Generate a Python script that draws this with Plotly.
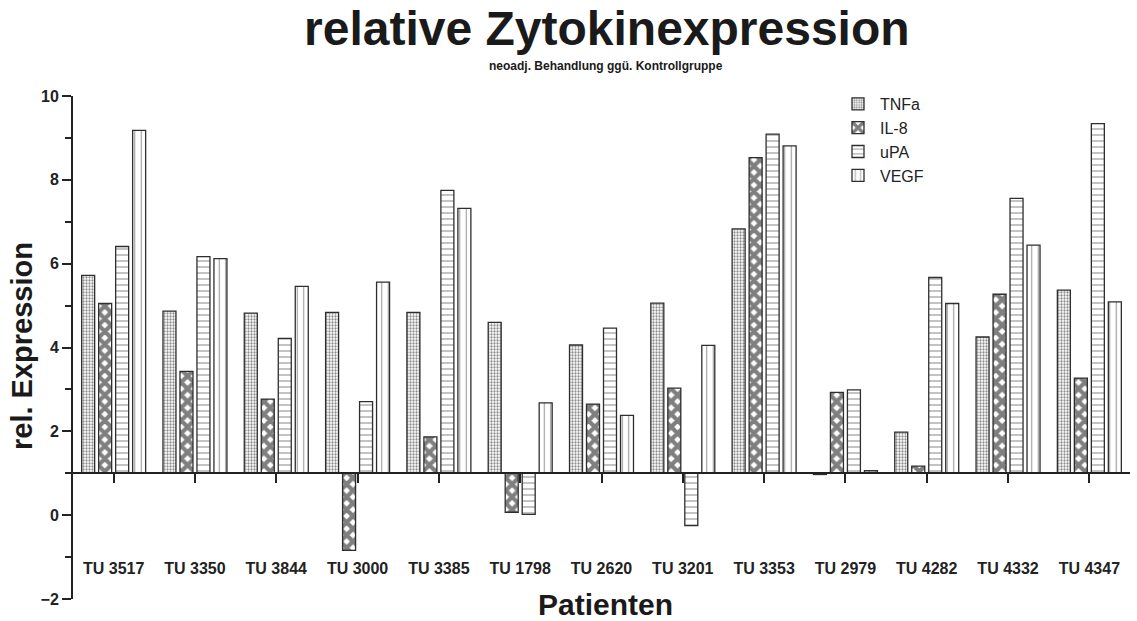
import plotly.graph_objects as go

patients = ["TU 3517", "TU 3350", "TU 3844", "TU 3000", "TU 3385", "TU 1798", "TU 2620",
            "TU 3201", "TU 3353", "TU 2979", "TU 4282", "TU 4332", "TU 4347"]
tnfa = [5.72, 4.87, 4.82, 4.84, 4.84, 4.60, 4.06, 5.06, 6.83, 0.97, 1.98, 4.25, 5.37]
il8 = [5.05, 3.43, 2.77, -0.84, 1.87, 0.07, 2.65, 3.03, 8.53, 2.93, 1.17, 5.27, 3.27]
upa = [6.41, 6.17, 4.22, 2.71, 7.75, 0.02, 4.46, -0.25, 9.09, 2.99, 5.67, 7.56, 9.34]
vegf = [9.18, 6.12, 5.46, 5.56, 7.32, 2.68, 2.38, 4.05, 8.81, 1.06, 5.05, 6.44, 5.09]
baseline = 1.0

series = [
    ("TNFa", tnfa, dict(shape=".", size=3, solidity=0.45, fgcolor="#1a1a1a", bgcolor="white")),
    ("IL-8", il8, dict(shape="x", size=9, solidity=0.72, fgcolor="#000000", bgcolor="white")),
    ("uPA", upa, dict(shape="-", size=6, solidity=0.2, fgcolor="#333333", bgcolor="white")),
    ("VEGF", vegf, dict(shape="|", size=6.5, solidity=0.17, fgcolor="#333333", bgcolor="white")),
]

FONT = "Liberation Sans, Arial, sans-serif"

fig = go.Figure()
for name, vals, pat in series:
    fig.add_trace(go.Bar(
        name=name, x=patients, y=[v - baseline for v in vals], base=baseline,
        marker=dict(color="white", line=dict(color="#2e2e2e", width=1.3), pattern=pat),
    ))

W, H = 1137, 621
L, R, T, B = 73, 7, 96, 22
pw, ph = W - L - R, H - T - B

def px_x(px):
    return (px - L) / pw

def px_y(py):
    return (H - B - py) / ph

fig.update_layout(
    width=W, height=H,
    margin=dict(l=L, r=R, t=T, b=B),
    paper_bgcolor="white", plot_bgcolor="white",
    barmode="group", bargap=0.164, bargroupgap=0.235,
    font=dict(family=FONT, color="#222222"),
    showlegend=True,
    legend=dict(x=px_x(836), y=px_y(87), xanchor="left", yanchor="top",
                bgcolor="rgba(0,0,0,0)", font=dict(size=16, family=FONT, color="#222222"),
                itemwidth=34),
    xaxis=dict(type="category", categoryorder="array", categoryarray=patients,
               range=[-0.5, len(patients) - 0.5],
               anchor="free", position=(baseline + 2) / 12,
               showline=True, linecolor="#222222", linewidth=2,
               ticks="outside", ticklen=9, tickwidth=2, tickcolor="#222222",
               ticklabelstandoff=72,
               tickfont=dict(size=16, family=FONT, weight="bold", color="#222222"),
               showgrid=False, zeroline=False),
    yaxis=dict(range=[-2, 10], dtick=2, tick0=0,
               showline=True, linecolor="#222222", linewidth=2,
               ticks="outside", ticklen=9, tickwidth=2, tickcolor="#222222",
               minor=dict(dtick=1, ticks="outside", ticklen=6, tickwidth=2, tickcolor="#222222"),
               tickfont=dict(size=16, family=FONT, weight="bold", color="#222222"),
               showgrid=False, zeroline=False),
)

fig.add_annotation(text="relative Zytokinexpression", xref="paper", yref="paper",
                   x=px_x(607), y=px_y(29), xanchor="center", yanchor="middle", showarrow=False,
                   font=dict(size=48, family=FONT, weight="bold", color="#1a1a1a"))
fig.add_annotation(text="neoadj. Behandlung ggü. Kontrollgruppe", xref="paper", yref="paper",
                   x=px_x(606), y=px_y(66), xanchor="center", yanchor="middle", showarrow=False,
                   font=dict(size=12, family=FONT, weight="bold", color="#1a1a1a"))
fig.add_annotation(text="Patienten", xref="paper", yref="paper",
                   x=px_x(605), y=px_y(604), xanchor="center", yanchor="middle", showarrow=False,
                   font=dict(size=30, family=FONT, weight="bold", color="#1a1a1a"))
fig.add_annotation(text="rel. Expression", xref="paper", yref="paper", textangle=-90,
                   x=px_x(22), y=px_y(346), xanchor="center", yanchor="middle", showarrow=False,
                   font=dict(size=29, family=FONT, weight="bold", color="#1a1a1a"))

fig.write_html("out.html", config={"displayModeBar": False},
               post_script="document.body.style.margin='0px';document.body.style.overflow='hidden';")
